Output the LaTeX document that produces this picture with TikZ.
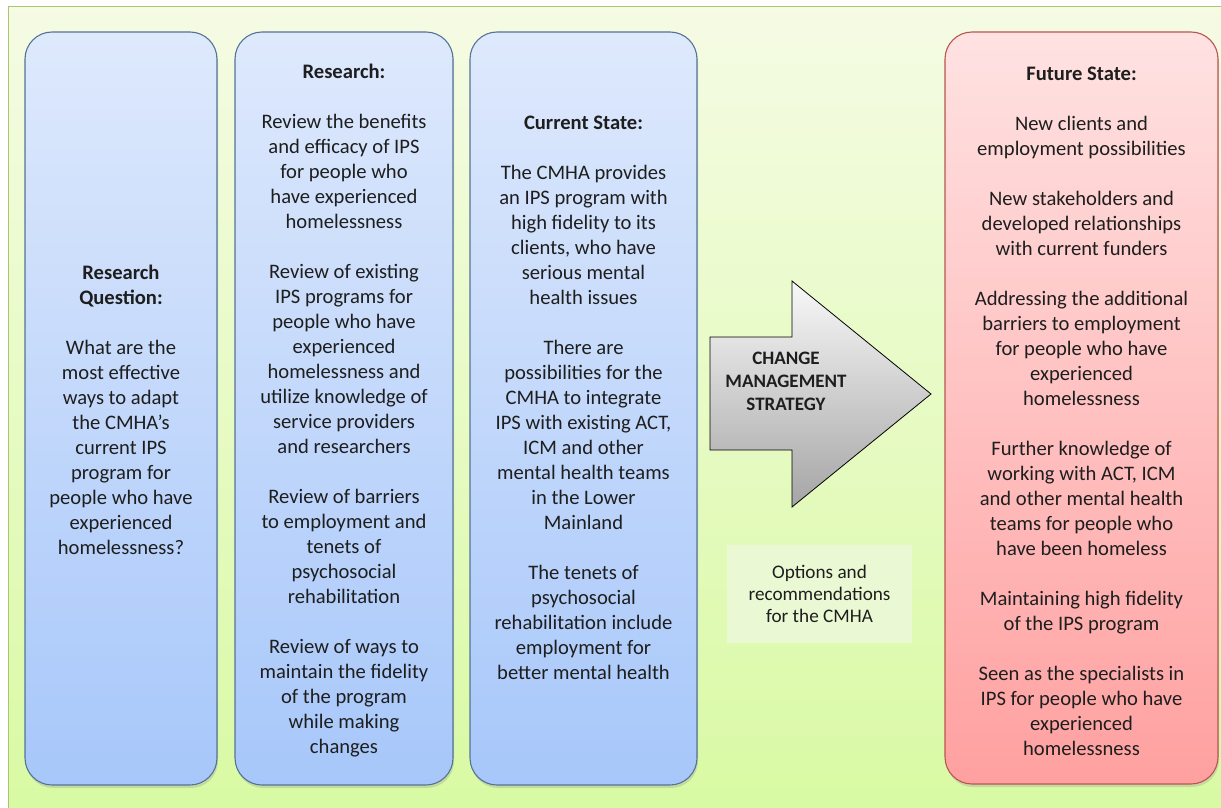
\documentclass[tikz,border=0pt]{standalone}
\usepackage{fontspec}
\setmainfont{Carlito}
\usetikzlibrary{shadows,positioning}

\definecolor{bgtop}{RGB}{245,251,228}
\definecolor{bgbot}{RGB}{216,250,162}
\definecolor{bgline}{RGB}{170,196,112}
\definecolor{bluetop}{RGB}{222,233,252}
\definecolor{bluebot}{RGB}{167,199,250}
\definecolor{blueline}{RGB}{85,115,150}
\definecolor{redtop}{RGB}{255,226,226}
\definecolor{redbot}{RGB}{255,160,160}
\definecolor{redline}{RGB}{185,85,80}
\definecolor{arrtop}{RGB}{248,248,248}
\definecolor{arrbot}{RGB}{165,165,165}
\definecolor{optfill}{RGB}{234,249,212}
\definecolor{textcol}{RGB}{30,30,30}

\begin{document}
\begin{tikzpicture} [x=1pt,y=-1pt,{stage/.style={rectangle,rounded corners=27pt,draw=blueline,line width=1.1pt,top color=bluetop,bottom color=bluebot,minimum height=753pt,inner sep=0pt,drop shadow={shadow xshift=1pt,shadow yshift=-3pt,opacity=0.25}}},{stage2/.style={stage,draw=redline,top color=redtop,bottom color=redbot}},{txt/.style={align=center,text=textcol,font=\fontsize{20.6}{25}\selectfont}}]
	%%page and frame
	\clip (0,0) rectangle (1221,808);
	\draw [bgline, line width=1pt, top color=bgtop, bottom color=bgbot] (8,7) rectangle (1240,830);
	%%corners of the arrow
	\coordinate (A) at (710,337);
	\coordinate (B) at (792,337);
	\coordinate (C) at (792,281);
	\coordinate (D) at (931,394);
	\coordinate (E) at (792,507);
	\coordinate (F) at (792,450);
	\coordinate (G) at (710,450);
	%%columns
	\node [stage, minimum width=192pt] (rq) at (121,408.5) {};
	\node [stage, minimum width=218pt] (res) at (344,408.5) {};
	\node [stage, minimum width=227pt] (cur) at (583.5,408.5) {};
	\node [stage2, minimum width=273pt, minimum height=752pt] (fut) at (1081.5,408) {};
	
	\node [txt, yshift=-1.5pt] (rqtxt) at (rq.center) {\textbf{Research}\\\textbf{Question:}\\[25pt]What are the\\most effective\\ways to adapt\\the CMHA’s\\current IPS\\program for\\people who have\\experienced\\homelessness?};
	
	\node [txt, yshift=-2pt] (restxt) at (res.center) {\textbf{Research:}\\[25pt]Review the benefits\\and efficacy of IPS\\for people who\\have experienced\\homelessness\\[25pt]Review of existing\\IPS programs for\\people who have\\experienced\\homelessness and\\utilize knowledge of\\service providers\\and researchers\\[25pt]Review of barriers\\to employment and\\tenets of\\psychosocial\\rehabilitation\\[25pt]Review of ways to\\maintain the fidelity\\of the program\\while making\\changes};
	
	\node [txt, yshift=10.5pt] (curtxt) at (cur.center) {\textbf{Current State:}\\[25pt]The CMHA provides\\an IPS program with\\high fidelity to its\\clients, who have\\serious mental\\health issues\\[25pt]There are\\possibilities for the\\CMHA to integrate\\IPS with existing ACT,\\ICM and other\\mental health teams\\in the Lower\\Mainland\\[25pt]The tenets of\\psychosocial\\rehabilitation include\\employment for\\better mental health};
	
	\node [txt, yshift=-3.5pt] (futtxt) at (fut.center) {\textbf{Future State:}\\[25pt]New clients and\\employment possibilities\\[25pt]New stakeholders and\\developed relationships\\with current funders\\[25pt]Addressing the additional\\barriers to employment\\for people who have\\experienced\\homelessness\\[25pt]Further knowledge of\\working with ACT, ICM\\and other mental health\\teams for people who\\have been homeless\\[25pt]Maintaining high fidelity\\of the IPS program\\[25pt]Seen as the specialists in\\IPS for people who have\\experienced\\homelessness};
	%%arrow
	\draw [black, line width=0.8pt, top color=arrtop, bottom color=arrbot] (A) -- (B) -- (C) -- (D) -- (E) -- (F) -- (G) -- cycle;
	\node [align=center, text=textcol, font=\bfseries\fontsize{19}{23}\selectfont] (cms) at (786,381) {CHANGE\\MANAGEMENT\\STRATEGY};
	%%options
	\node [fill=optfill, minimum width=185pt, minimum height=98pt, inner sep=0pt, align=center, text=textcol, font=\fontsize{19.2}{22}\selectfont] (opt) at (819.5,594) {Options and\\recommendations\\for the CMHA};
\end{tikzpicture}
\end{document}
